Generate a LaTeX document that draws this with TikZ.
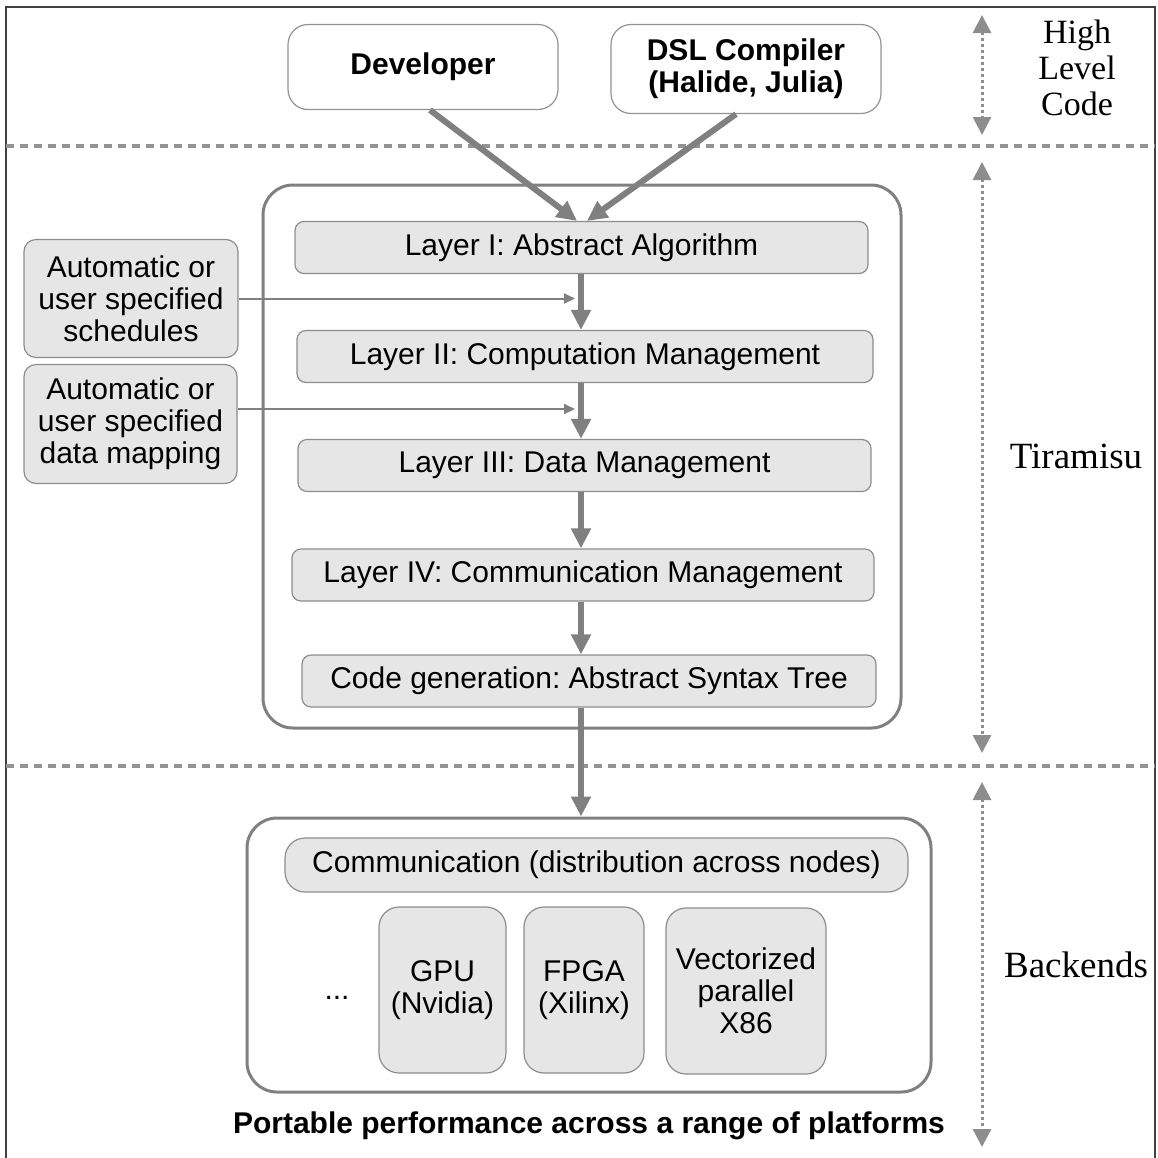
\documentclass[tikz,border=0pt]{standalone}
\usepackage{fontspec}
\setmainfont{Liberation Sans}
\newfontfamily\labelfont{Liberation Serif}
\usetikzlibrary{arrows.meta}
\frenchspacing

\definecolor{linegray}{HTML}{808080}
\definecolor{boxgray}{HTML}{E6E6E6}

\begin{document}
\begin{tikzpicture}[x=1pt,y=-1pt,
  txt/.style={font=\fontsize{30pt}{32pt}\selectfont},
  topbox/.style={draw=linegray!85, line width=1.2pt, fill=white, rounded corners=20pt, align=center, inner sep=0pt, font=\fontsize{30pt}{32pt}\selectfont\bfseries},
  layer/.style={draw=linegray!90, line width=1.2pt, fill=boxgray, rounded corners=9pt, minimum height=52pt, inner sep=0pt, txt},
  sidebox/.style={draw=linegray!90, line width=1.2pt, fill=boxgray, rounded corners=12pt, align=center, inner sep=0pt, txt},
  hwbox/.style={draw=linegray!90, line width=1.2pt, fill=boxgray, rounded corners=20pt, minimum height=166pt, align=center, inner sep=0pt, txt},
  container/.style={draw=linegray, line width=3pt, rounded corners=30pt, inner sep=0pt},
  sidelabel/.style={align=center, inner sep=0pt, font=\labelfont\fontsize{37pt}{36pt}\selectfont},
  sep/.style={draw=linegray!85, line width=3.5pt, dash pattern=on 8pt off 6pt},
  span/.style={draw=linegray!90, line width=3pt, dash pattern=on 3pt off 3pt, {Triangle[length=18pt,width=18pt]}-{Triangle[length=18pt,width=18pt]}},
  bigarrow/.style={draw=linegray, line width=6pt, -{Triangle[length=20pt,width=19pt]}},
  feed/.style={draw=linegray, line width=2pt, -{Triangle[length=11pt,width=10pt]}}]
\useasboundingbox (0,0) rectangle (1158,1157);

% frame and level separators
\draw[black!75, line width=1.5pt] (6,1165) -- (6,7) -- (1155,7) -- (1155,1165);
\draw[sep] (6,146) -- (1155,146);
\draw[sep] (6,766) -- (1155,766);

% high level code
\node[topbox, minimum width=270pt, minimum height=85pt] (dev) at (423,67) {Developer};
\node[topbox, minimum width=270pt, minimum height=89pt] (dsl) at (746,69) {DSL Compiler\\(Halide, Julia)};

% tiramisu layers
\node[container, minimum width=638pt, minimum height=543pt] (tira) at (582,456.5) {};
\foreach \n/\cx/\cy/\w/\txt in {1/581.5/247.5/573/Layer I: Abstract Algorithm,
    2/585/356.5/576/Layer II: Computation Management,
    3/584.5/465.5/573/Layer III: Data Management,
    4/583/575/582/Layer IV: Communication Management,
    5/589/681/574/Code generation: Abstract Syntax Tree}{
  \node[layer, minimum width=\w pt] (l\n) at (\cx,\cy) {\txt};
}
\coordinate (spine) at (581,0);
\coordinate (feedtip) at (575,0);

\node[sidebox, minimum width=214pt, minimum height=118pt] (sched) at (131,298.5) {Automatic or\\user specified\\schedules};
\node[sidebox, minimum width=213pt, minimum height=119pt] (dmap) at (130.5,424) {Automatic or\\user specified\\data mapping};

% backends
\node[container, minimum width=684pt, minimum height=274pt] (back) at (589,955) {};
\node[layer, rounded corners=20pt, minimum width=623pt, minimum height=54pt] (comm) at (596.5,865) {Communication (distribution across nodes)};
\node[txt, inner sep=0pt] (more) at (337,998) {...};
\node[hwbox, minimum width=127pt] (gpu) at (442.5,990) {GPU\\(Nvidia)};
\node[hwbox, minimum width=120pt] (fpga) at (584,990) {FPGA\\(Xilinx)};
\node[hwbox, minimum width=160pt] (x86) at (746,991) {Vectorized\\parallel\\X86};
\node[font=\fontsize{30pt}{32pt}\selectfont\bfseries, inner sep=0pt] (port) at (589,1126) {Portable performance across a range of platforms};

% connectors
\draw[bigarrow] ([xshift=7pt]dev.south) -- ([xshift=-4pt]spine |- l1.north);
\draw[bigarrow] ([xshift=-10pt]dsl.south) -- ([xshift=6pt]spine |- l1.north);
\foreach \a/\b in {1/2,2/3,3/4,4/5}{
  \draw[bigarrow] (l\a.south -| spine) -- (l\b.north -| spine);
}
\draw[bigarrow] (l5.south -| spine) -- (back.north -| spine);
\draw[feed] (sched.east) -- (sched.east -| feedtip);
\draw[feed] ([yshift=15pt]dmap.east) -- ([yshift=15pt]dmap.east -| feedtip);

% level spans on the right
\coordinate (hl top) at (982,15);
\coordinate (hl bot) at (982,135);
\coordinate (ti top) at (982,162);
\coordinate (ti bot) at (982,753);
\coordinate (be top) at (982,782);
\coordinate (be bot) at (982,1147);
\draw[span] (hl top) -- (hl bot);
\draw[span] (ti top) -- (ti bot);
\draw[span] (be top) -- (be bot);
\node[sidelabel, font=\labelfont\fontsize{34pt}{36pt}\selectfont] (hlc) at (1077,68) {High\\Level\\Code};
\node[sidelabel] (tlab) at (1076,456) {Tiramisu};
\node[sidelabel] (blab) at (1076,965) {Backends};
\end{tikzpicture}
\end{document}
